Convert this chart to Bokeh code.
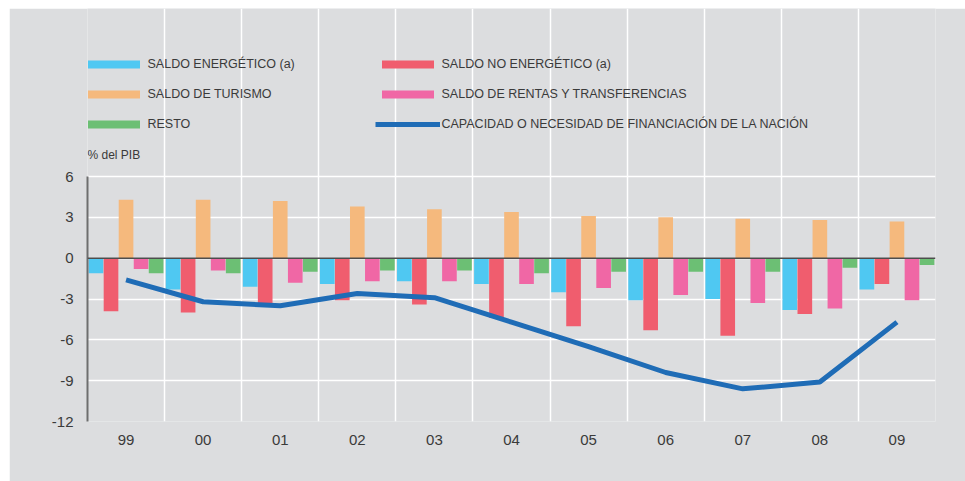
from bokeh.plotting import figure
from bokeh.models import (FactorRange, Range1d, ColumnDataSource, FixedTicker, Span,
                          Legend, LegendItem, Label, Spacer)
from bokeh.layouts import column, row
from bokeh.transform import dodge
from bokeh.embed import file_html
from bokeh.resources import INLINE

years = ["99", "00", "01", "02", "03", "04", "05", "06", "07", "08", "09"]
energetico = [-1.1, -2.3, -2.1, -1.9, -1.7, -1.9, -2.5, -3.1, -3.0, -3.8, -2.3]
no_energetico = [-3.9, -4.0, -3.3, -3.1, -3.4, -4.4, -5.0, -5.3, -5.7, -4.1, -1.9]
turismo = [4.3, 4.3, 4.2, 3.8, 3.6, 3.4, 3.1, 3.0, 2.9, 2.8, 2.7]
rentas = [-0.8, -0.9, -1.8, -1.7, -1.7, -1.9, -2.2, -2.7, -3.3, -3.7, -3.1]
resto = [-1.1, -1.1, -1.0, -0.9, -0.9, -1.1, -1.0, -1.0, -1.0, -0.7, -0.5]
capacidad = [-1.6, -3.2, -3.5, -2.6, -2.9, -4.7, -6.5, -8.4, -9.6, -9.1, -4.7]
y_ticks = [-12, -9, -6, -3, 0, 3, 6]

labels = {
    "energetico": "SALDO ENERGÉTICO (a)",
    "no_energetico": "SALDO NO ENERGÉTICO (a)",
    "turismo": "SALDO DE TURISMO",
    "rentas": "SALDO DE RENTAS Y TRANSFERENCIAS",
    "resto": "RESTO",
    "capacidad": "CAPACIDAD O NECESIDAD DE FINANCIACIÓN DE LA NACIÓN",
}
colors = {
    "energetico": "#4FC8F2",
    "no_energetico": "#F05D6E",
    "turismo": "#F5B97D",
    "rentas": "#F067A5",
    "resto": "#6CBF74",
    "capacidad": "#1F6CB6",
}

BG = "#DCDDDF"
TXT = "#3a3a3a"
FONT = "Liberation Sans"
W, H = 956, 473
BORDER_L, BORDER_R, BORDER_B = 78, 30, 60
PLOT_PX = 245            # pixel height of the -12..6 value band
Y_MIN, Y_MAX = y_ticks[0], y_ticks[-1]
px_per_unit = PLOT_PX / (Y_MAX - Y_MIN)
# the frame also spans the legend area above the value band (frame top = canvas top)
Y_TOP = Y_MIN + (H - BORDER_B) / px_per_unit

source = ColumnDataSource(dict(year=years, energetico=energetico, no_energetico=no_energetico,
                               turismo=turismo, rentas=rentas, resto=resto, capacidad=capacidad))

p = figure(x_range=FactorRange(*years), y_range=Range1d(Y_MIN, Y_TOP),
           width=W, height=H, output_backend="svg", toolbar_location=None,
           background_fill_color=BG, border_fill_color=BG, outline_line_color=None)
p.min_border_left = BORDER_L
p.min_border_right = BORDER_R
p.min_border_top = 0
p.min_border_bottom = BORDER_B

series = ["energetico", "no_energetico", "turismo", "rentas", "resto"]
step = 0.195
renderers = {}
for i, key in enumerate(series):
    off = (i - 2) * step
    renderers[key] = p.vbar(x=dodge("year", off, range=p.x_range), top=key, bottom=0,
                            width=0.19, source=source, fill_color=colors[key], line_color=None)

p.add_layout(Span(location=0, dimension="width", line_color="#4d4d4d", line_width=1.5))

renderers["capacidad"] = p.line(x="year", y="capacidad", source=source,
                                line_color=colors["capacidad"], line_width=5)

# grids limited to the value band
p.ygrid.ticker = FixedTicker(ticks=y_ticks)
p.ygrid.grid_line_color = "white"
p.ygrid.grid_line_width = 1.5
p.xgrid.ticker = FixedTicker(ticks=list(range(len(years) + 1)))
p.xgrid.grid_line_color = "white"
p.xgrid.grid_line_width = 1.5
p.xgrid.bounds = (Y_MIN, Y_MAX)

p.yaxis.ticker = FixedTicker(ticks=y_ticks)
p.yaxis.bounds = (Y_MIN, Y_MAX)
p.yaxis.major_label_overrides = {t: str(t) for t in y_ticks}
p.yaxis.axis_line_color = "#6e6e6e"
p.yaxis.axis_line_width = 2
p.yaxis.major_tick_line_color = None
p.yaxis.minor_tick_line_color = None
p.yaxis.major_tick_out = 0
p.yaxis.major_tick_in = 0
p.yaxis.major_label_standoff = 14
p.yaxis.major_label_text_font = FONT
p.yaxis.major_label_text_font_size = "15px"
p.yaxis.major_label_text_color = TXT

p.xaxis.axis_line_color = None
p.xaxis.major_tick_line_color = None
p.xaxis.minor_tick_line_color = None
p.xaxis.major_tick_out = 0
p.xaxis.major_tick_in = 0
p.xaxis.major_label_standoff = 13
p.xaxis.major_label_text_font = FONT
p.xaxis.major_label_text_font_size = "15px"
p.xaxis.major_label_text_color = TXT

# legend: two columns, filled column-first
order = ["energetico", "turismo", "resto", "no_energetico", "rentas", "capacidad"]
legend = Legend(items=[LegendItem(label=labels[k], renderers=[renderers[k]]) for k in order],
                location=(-6.5, 290.3), ncols=2, orientation="vertical",
                glyph_width=65, glyph_height=10, label_height=14, label_width=211,
                label_standoff=2, spacing=16, padding=0, margin=0,
                border_line_color=None, background_fill_alpha=0,
                label_text_font=FONT, label_text_font_size="12.5px", label_text_color=TXT)
p.add_layout(legend, "center")

p.add_layout(Label(x=0, y=Y_MAX + 22 / px_per_unit, text="% del PIB", text_font=FONT,
                   text_font_size="12px", text_color=TXT, text_baseline="middle",
                   text_align="left"))

layout = column(Spacer(height=8, width=965),
                row(Spacer(width=9, height=H), p, spacing=0),
                spacing=0)
open("out.html", "w").write(file_html(layout, INLINE))
